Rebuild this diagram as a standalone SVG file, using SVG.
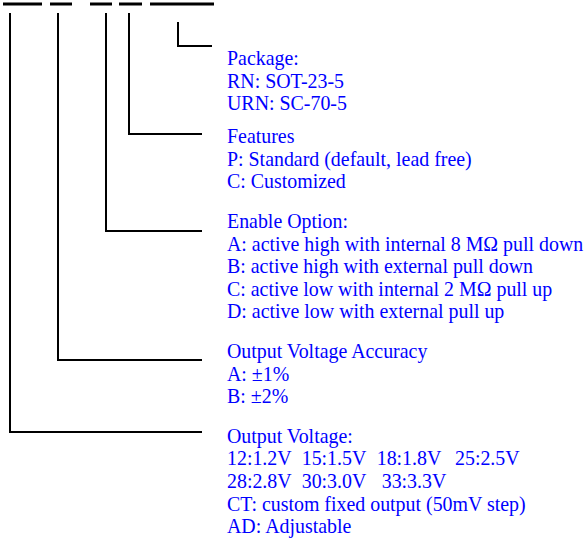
<svg xmlns="http://www.w3.org/2000/svg" width="587" height="538" viewBox="0 0 587 538">
<style>
.bar{stroke:#000;stroke-width:3;fill:none}
.ln{stroke:#000;stroke-width:2;fill:none}
.t{font-family:'Liberation Serif',Tinos,'Times New Roman',Times,serif;font-size:19.9px;fill:#0000ff}
</style>
<rect width="587" height="538" fill="#fff"/>
<g id="bars">
<line class="bar" x1="3" y1="4" x2="42" y2="4"/>
<line class="bar" x1="50" y1="4" x2="72" y2="4"/>
<line class="bar" x1="90" y1="4" x2="112" y2="4"/>
<line class="bar" x1="119" y1="4" x2="142" y2="4"/>
<line class="bar" x1="150" y1="4" x2="214" y2="4"/>
</g>
<g id="connectors">
<polyline class="ln" points="178,22 178,46 212,46"/>
<polyline class="ln" points="129,13 129,134 202,134"/>
<polyline class="ln" points="106,13 106,231 202,231"/>
<polyline class="ln" points="58,13 58,360 202,360"/>
<polyline class="ln" points="10,13 10,432 202,432"/>
</g>
<g id="package">
<text class="t" x="227" y="65">Package:</text>
<text class="t" x="227" y="87.5">RN: SOT-23-5</text>
<text class="t" x="227" y="110">URN: SC-70-5</text>
</g>
<g id="features">
<text class="t" x="227" y="143">Features</text>
<text class="t" x="227" y="165.5">P: Standard (default, lead free)</text>
<text class="t" x="227" y="188">C: Customized</text>
</g>
<g id="enable">
<text class="t" x="227" y="227.5">Enable Option:</text>
<text class="t" x="227" y="250.5">A: active high with internal 8 MΩ pull down</text>
<text class="t" x="227" y="273">B: active high with external pull down</text>
<text class="t" x="227" y="295.5">C: active low with internal 2 MΩ pull up</text>
<text class="t" x="227" y="318">D: active low with external pull up</text>
</g>
<g id="accuracy">
<text class="t" x="227" y="357.5">Output Voltage Accuracy</text>
<text class="t" x="227" y="380.5">A: ±1%</text>
<text class="t" x="227" y="403">B: ±2%</text>
</g>
<g id="voltage">
<text class="t" x="227" y="442.5">Output Voltage:</text>
<text class="t" y="465"><tspan x="227">12:1.2V</tspan><tspan x="301.7">15:1.5V</tspan><tspan x="376.7">18:1.8V</tspan><tspan x="455">25:2.5V</tspan></text>
<text class="t" y="487.5"><tspan x="227">28:2.8V</tspan><tspan x="301.7">30:3.0V</tspan><tspan x="381.7">33:3.3V</tspan></text>
<text class="t" x="227" y="510.5">CT: custom fixed output (50mV step)</text>
<text class="t" x="227" y="533">AD: Adjustable</text>
</g>
</svg>
